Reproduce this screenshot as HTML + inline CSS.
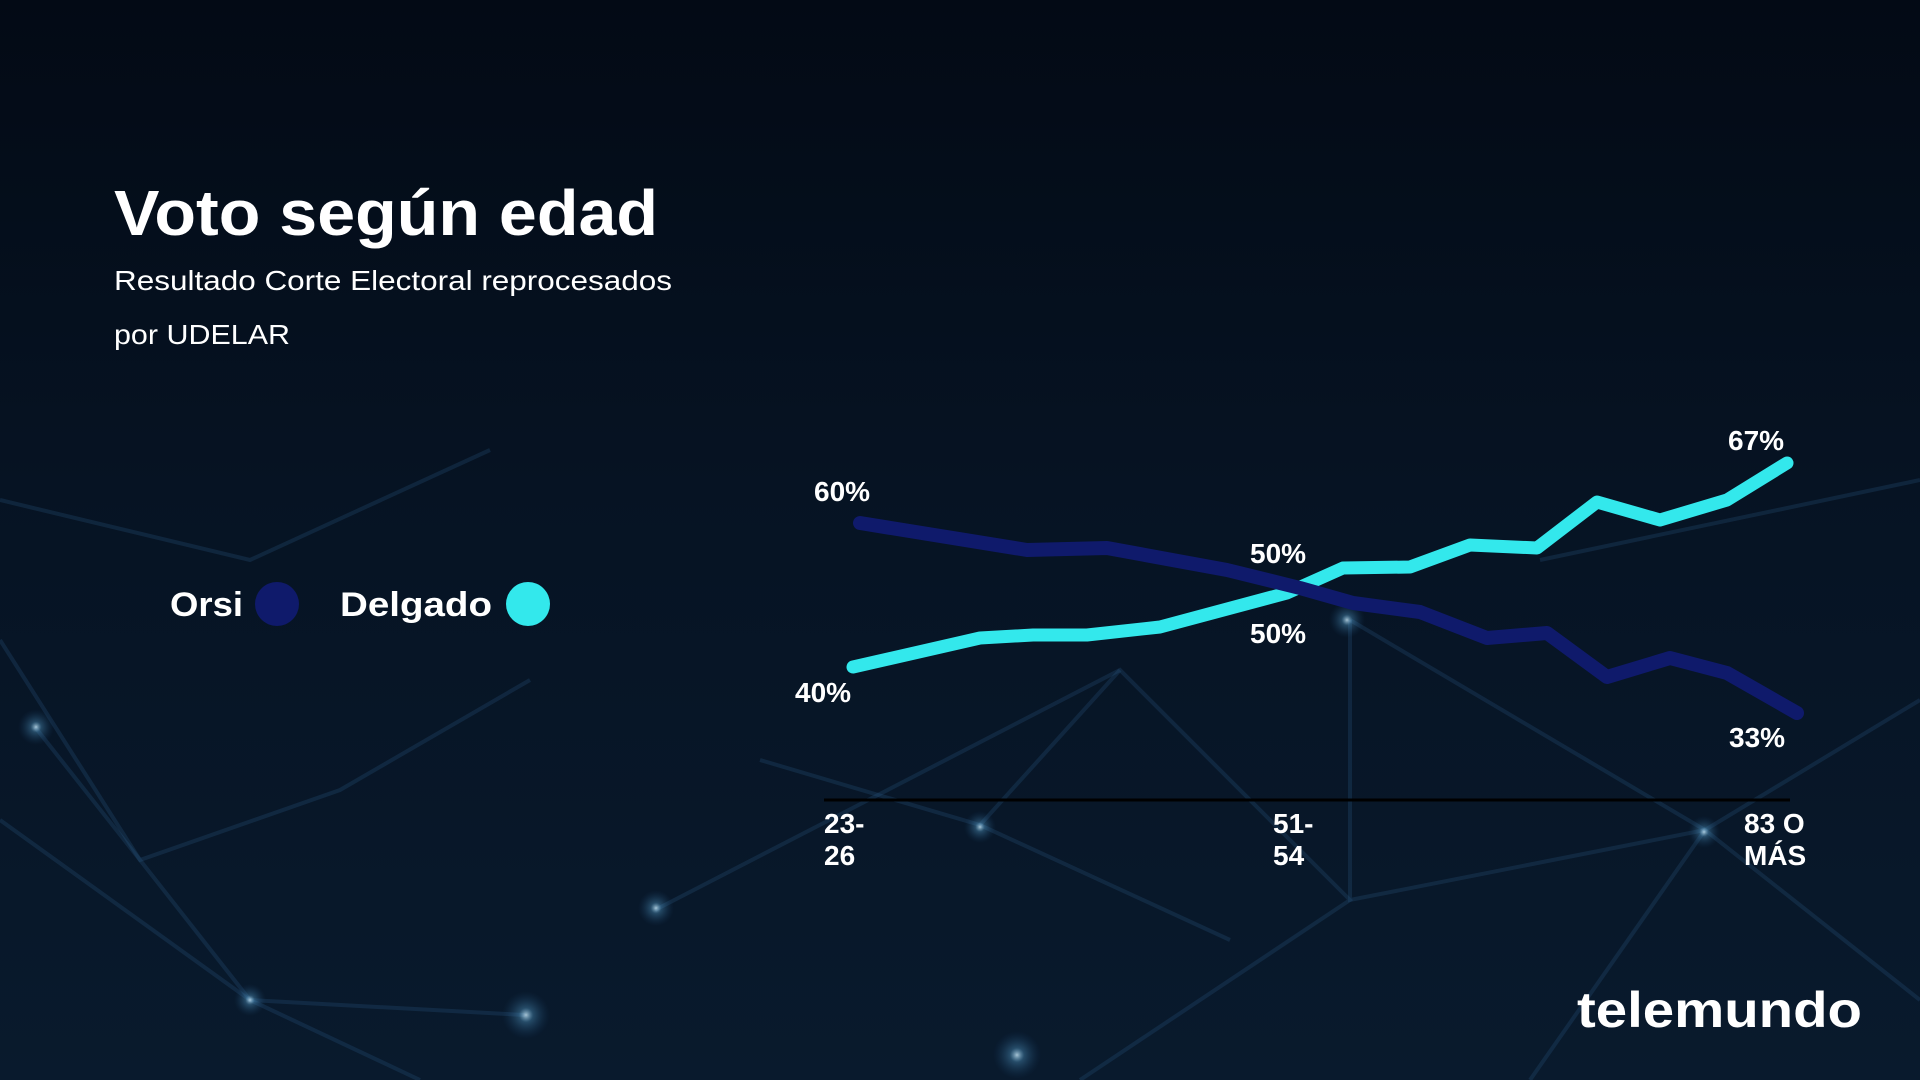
<!DOCTYPE html>
<html><head><meta charset="utf-8"><style>
html,body{margin:0;padding:0;width:1920px;height:1080px;overflow:hidden;background:#050d1b}
svg{display:block}
text{font-family:"Liberation Sans",sans-serif;fill:#fff}
</style></head><body>
<svg width="1920" height="1080" viewBox="0 0 1920 1080" xmlns="http://www.w3.org/2000/svg">
<defs>
<linearGradient id="bg" x1="0" y1="0" x2="0" y2="1">
<stop offset="0" stop-color="#030a15"/><stop offset="0.45" stop-color="#061323"/><stop offset="1" stop-color="#091a2d"/>
</linearGradient>
<radialGradient id="glow"><stop offset="0" stop-color="#cfefff" stop-opacity="0.8"/><stop offset="0.3" stop-color="#5aa7d6" stop-opacity="0.35"/><stop offset="1" stop-color="#1a4a78" stop-opacity="0"/></radialGradient>
</defs>
<rect width="1920" height="1080" fill="url(#bg)"/>
<g stroke="#2a5a86" stroke-opacity="0.25" stroke-width="4" fill="none">
<path d="M0 640 L140 860 L250 1000 L420 1080"/>
<path d="M35 727 L140 860 L340 790 L530 680"/>
<path d="M0 820 L250 1000 L525 1015"/>
<path d="M655 910 L1120 670 L1350 900 L1080 1080"/>
<path d="M980 825 L1120 670"/>
<path d="M1350 620 L1705 830 L1920 700"/>
<path d="M1350 620 L1350 900 L1705 830"/>
<path d="M1540 560 L1920 480"/>
<path d="M760 760 L980 825 L1230 940"/>
<path d="M1530 1080 L1705 830 L1920 1000"/>
<path d="M0 500 L250 560 L490 450"/>
</g>
<circle cx="36" cy="727" r="18" fill="url(#glow)"/>
<circle cx="980" cy="827" r="16" fill="url(#glow)"/>
<circle cx="1347" cy="620" r="18" fill="url(#glow)"/>
<circle cx="1704" cy="832" r="16" fill="url(#glow)"/>
<circle cx="656" cy="908" r="18" fill="url(#glow)"/>
<circle cx="526" cy="1015" r="24" fill="url(#glow)"/>
<circle cx="1017" cy="1055" r="24" fill="url(#glow)"/>
<circle cx="250" cy="1000" r="16" fill="url(#glow)"/>

<text x="114" y="235" font-size="64" font-weight="bold" textLength="544" lengthAdjust="spacingAndGlyphs">Voto según edad</text>
<text x="114" y="290" font-size="28" textLength="558" lengthAdjust="spacingAndGlyphs">Resultado Corte Electoral reprocesados</text>
<text x="114" y="344" font-size="28" textLength="176" lengthAdjust="spacingAndGlyphs">por UDELAR</text>

<text x="170" y="616" font-size="34" font-weight="bold" textLength="73" lengthAdjust="spacingAndGlyphs">Orsi</text>
<circle cx="277" cy="604" r="22" fill="#0f1a6b"/>
<text x="340" y="616" font-size="34" font-weight="bold" textLength="152" lengthAdjust="spacingAndGlyphs">Delgado</text>
<circle cx="528" cy="604" r="22" fill="#33e8ec"/>

<line x1="824" y1="800" x2="1790" y2="800" stroke="#000" stroke-width="3"/>
<polyline fill="none" stroke="#33e8ec" stroke-width="13" stroke-linecap="round" stroke-linejoin="round" points="853,667 980,638 1033,635 1087,635 1160,627 1287,593 1343,568 1410,567 1470,545 1537,548 1597,502 1660,520 1727,500 1787,463"/>
<polyline fill="none" stroke="#0f1a6b" stroke-width="14" stroke-linecap="round" stroke-linejoin="round" points="860,523 1027,550 1107,548 1227,570 1300,588 1353,603 1420,612 1487,638 1547,633 1607,677 1670,658 1727,673 1797,713"/>

<g font-size="28" font-weight="bold">
<text x="814" y="501">60%</text>
<text x="795" y="702">40%</text>
<text x="1250" y="563">50%</text>
<text x="1250" y="643">50%</text>
<text x="1728" y="450">67%</text>
<text x="1729" y="747">33%</text>
<text x="824" y="833">23-</text>
<text x="824" y="865">26</text>
<text x="1273" y="833">51-</text>
<text x="1273" y="865">54</text>
<text x="1744" y="833">83 O</text>
<text x="1744" y="865">MÁS</text>
</g>
<text x="1577" y="1027" font-size="50" font-weight="bold" textLength="285" lengthAdjust="spacingAndGlyphs">telemundo</text>
</svg>
</body></html>
